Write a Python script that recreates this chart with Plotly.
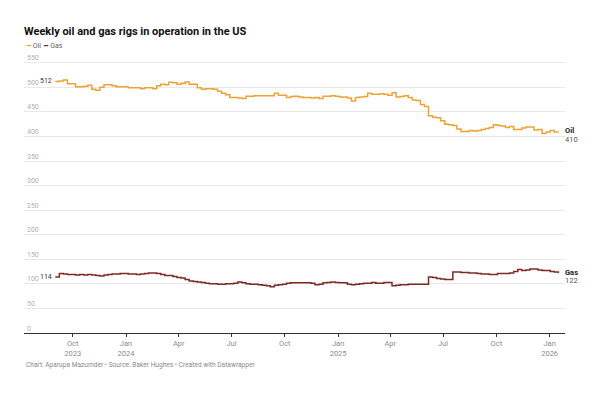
import pandas as pd
import plotly.graph_objects as go

# ---- data ----
start_date = "2023-09-01"
n_weeks = 125
dates = pd.date_range(start_date, periods=n_weeks, freq="7D")

oil = [512, 513, 515, 507, 507, 501, 501, 502, 504, 496, 494, 500, 505, 505, 503, 501, 501, 501,
       499, 499, 499, 497, 499, 499, 497, 503, 506, 505, 510, 509, 506, 508, 511, 506, 506, 499,
       496, 497, 497, 496, 492, 488, 485, 479, 479, 478, 477, 482, 482, 483, 483, 483, 483, 483,
       488, 484, 484, 479, 481, 482, 480, 479, 479, 478, 479, 477, 482, 482, 483, 482, 480, 480,
       478, 472, 479, 480, 481, 488, 486, 486, 487, 486, 484, 489, 480, 481, 483, 479, 474, 473,
       465, 461, 442, 439, 438, 432, 425, 424, 422, 415, 410, 410, 412, 411, 412, 414, 416, 418,
       424, 422, 421, 418, 420, 414, 414, 417, 419, 419, 413, 414, 406, 409, 412, 409, 410]

gas = [114, 121, 120, 119, 119, 118, 119, 118, 119, 118, 117, 116, 118, 119, 120, 120, 121, 121,
       120, 120, 119, 120, 121, 122, 122, 121, 119, 117, 117, 115, 113, 112, 109, 106, 105, 104,
       103, 101, 100, 100, 99, 99, 100, 100, 101, 104, 102, 100, 99, 99, 98, 97, 96, 94,
       97, 98, 99, 101, 102, 102, 102, 102, 102, 101, 98, 99, 102, 103, 104, 103, 102, 102,
       99, 98, 99, 100, 101, 101, 103, 101, 101, 103, 103, 96, 97, 98, 98, 99, 99, 99,
       99, 99, 114, 113, 111, 110, 109, 109, 124, 124, 123, 123, 122, 122, 121, 120, 120, 119,
       119, 121, 121, 121, 122, 125, 129, 127, 128, 130, 130, 128, 127, 127, 125, 124, 122]

series_names = ["Oil", "Gas"]
series_colors = ["#eea236", "#7d2b22"]

tick_dates = ["2023-10-01", "2024-01-01", "2024-04-01", "2024-07-01", "2024-10-01",
              "2025-01-01", "2025-04-01", "2025-07-01", "2025-10-01", "2026-01-01"]
tick_labels = ["Oct<br>2023", "Jan<br>2024", "Apr", "Jul", "Oct",
               "Jan<br>2025", "Apr", "Jul", "Oct", "Jan<br>2026"]
y_ticks = [0, 50, 100, 150, 200, 250, 300, 350, 400, 450, 500, 550]

title = "Weekly oil and gas rigs in operation in the US"
footer = "Chart: Aparupa Mazumder • Source: Baker Hughes • Created with Datawrapper"

FONT = "Roboto"

fig = go.Figure()
for name, vals, col in zip(series_names, [oil, gas], series_colors):
    fig.add_trace(go.Scatter(x=dates, y=vals, name=name, mode="lines",
                             line=dict(color=col, width=1.5, shape="hv"),
                             showlegend=False))

# start / end labels
for name, vals in zip(series_names, [oil, gas]):
    fig.add_annotation(x=dates[0], y=vals[0], text=str(vals[0]), showarrow=False,
                       xanchor="right", yanchor="middle", xshift=-1,
                       font=dict(family=FONT, size=7, color="#333333"))
    fig.add_annotation(x=dates[-1], y=vals[-1], text=f"<b>{name}</b>",
                       showarrow=False, xanchor="left", yanchor="middle", yshift=1, xshift=5,
                       font=dict(family=FONT, size=7.5, color="#222222"))
    fig.add_annotation(x=dates[-1], y=vals[-1], text=str(vals[-1]),
                       showarrow=False, xanchor="left", yanchor="middle", yshift=-7.5, xshift=5,
                       font=dict(family=FONT, size=7.5, color="#555555"))

# legend
legend_text = "  ".join(
    f"<span style='color:{c}'>━</span> <span style='color:#666666'>{n}</span>"
    for n, c in zip(series_names, series_colors))
fig.add_annotation(xref="paper", yref="paper", x=0.0, y=1.0, yshift=0, text=legend_text,
                   showarrow=False, xanchor="left", yanchor="middle",
                   font=dict(family=FONT, size=7, color="#666666"))

# footer
fig.add_annotation(xref="paper", yref="paper", x=0.0, y=0, yshift=-32, text=footer,
                   showarrow=False, xanchor="left", yanchor="middle",
                   font=dict(family=FONT, size=6.6, color="#8a8a8a"))

fig.update_layout(
    width=600, height=394,
    margin=dict(l=24, r=35, t=46, b=61),
    paper_bgcolor="white", plot_bgcolor="white",
    title=dict(text=f"<b>{title}</b>", x=24 / 600, xanchor="left", y=1 - 31 / 394,
               yanchor="middle", font=dict(family=FONT, size=11, color="#111111")),
    font=dict(family=FONT),
)

fig.update_xaxes(
    type="date",
    range=["2023-07-09", "2026-01-27 12:00"],
    tickvals=tick_dates, ticktext=tick_labels,
    showgrid=False, showline=True, linecolor="#333333", linewidth=1,
    ticks="outside", ticklen=3, tickcolor="#333333", tickwidth=1,
    tickfont=dict(family=FONT, size=7.5, color="#8c8c8c"),
    zeroline=False,
)
fig.update_yaxes(
    range=[0, 584], tickvals=y_ticks,
    showgrid=True, gridcolor="#e8e8e8", gridwidth=1,
    ticklabelposition="inside top",
    tickfont=dict(family=FONT, size=7, color="#b0b0b0"),
    zeroline=False, showline=False, ticks="",
)

fig.write_html("out.html", config={"displayModeBar": False},
               post_script="document.body.style.margin='0';")
